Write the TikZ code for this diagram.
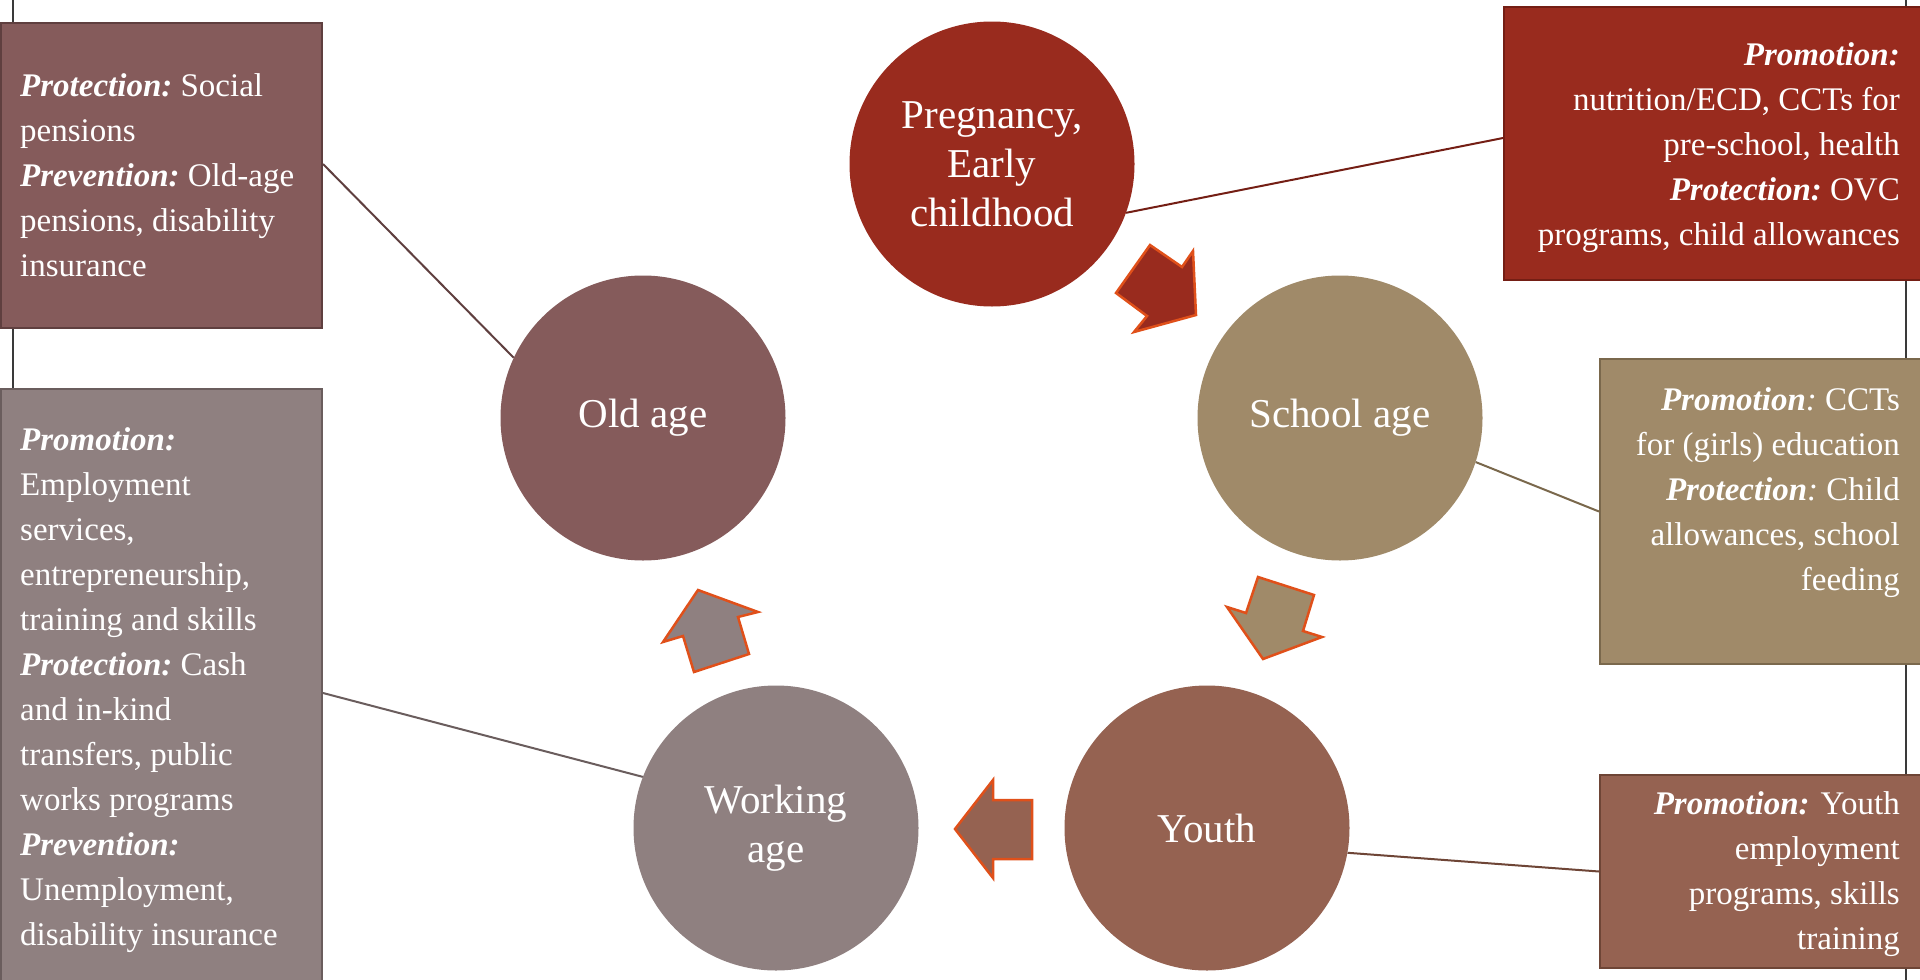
\documentclass[tikz,border=0pt]{standalone}
\usepackage{fontspec}
\setmainfont{Liberation Serif}
\definecolor{pregf}{HTML}{992B1E}
\definecolor{pregd}{HTML}{741E14}
\definecolor{schoolf}{HTML}{A08A69}
\definecolor{schoold}{HTML}{7A684C}
\definecolor{youthf}{HTML}{956251}
\definecolor{youthd}{HTML}{6E4536}
\definecolor{workf}{HTML}{8F8080}
\definecolor{workd}{HTML}{6A5D5D}
\definecolor{oldf}{HTML}{855B5B}
\definecolor{oldd}{HTML}{5F3F3F}
\definecolor{arrowline}{HTML}{E0501A}
\definecolor{rulec}{HTML}{3A3A3A}
% bold italic label
\newcommand\shd[1]{\textbf{\textit{#1}}}
\begin{document}
\begin{tikzpicture}[x=1pt,y=-1pt,
  stage/.style={circle, minimum size=285pt, inner sep=0pt, text=white, align=center,
    font=\fontsize{41}{49}\selectfont},
  infobox/.style={rectangle, line width=2pt, inner sep=0pt},
  infotext/.style={inner sep=0pt, text=white, font=\fontsize{33}{45}\selectfont},
  link/.style={line width=2pt},
  turn/.style={draw=arrowline, line width=2.5pt, line join=miter},
  rule/.style={draw=rulec, line width=2pt}]
\useasboundingbox (0,0) rectangle (1920,980);
\fill[white] (0,0) rectangle (1920,980);

% margin rules behind the boxes
\coordinate (lt) at (13,0);
\coordinate (lb) at (13,980);
\coordinate (rt) at (1906,0);
\coordinate (rb) at (1906,980);
\draw[rule] (lt) -- (lb);
\draw[rule] (rt) -- (rb);

% information boxes
\node[infobox, fill=oldf, draw=oldd, minimum width=321pt, minimum height=305pt, anchor=north west] (oldbox) at (0,22) {};
\node[infobox, fill=workf, draw=workd, minimum width=321pt, minimum height=608pt, anchor=north west] (workbox) at (0,388) {};
\node[infobox, fill=pregf, draw=pregd, minimum width=422pt, minimum height=273pt, anchor=north west] (pregbox) at (1503,6) {};
\node[infobox, fill=schoolf, draw=schoold, minimum width=326pt, minimum height=305pt, anchor=north west] (schoolbox) at (1599,358) {};
\node[infobox, fill=youthf, draw=youthd, minimum width=326pt, minimum height=193pt, anchor=north west] (youthbox) at (1599,774) {};

% box texts
\node[infotext, anchor=north west, align=left] (oldtxt) at (20,73)
  {\shd{Protection:}~Social\\pensions\\\shd{Prevention:}~Old-age\\pensions, disability\\insurance};
\node[infotext, anchor=north west, align=left] (worktxt) at (20,427)
  {\shd{Promotion:}\\Employment\\services,\\entrepreneurship,\\training and skills\\\shd{Protection:}~Cash\\and in-kind\\transfers, public\\works programs\\\shd{Prevention:}\\Unemployment,\\disability insurance};
\node[infotext, anchor=north east, align=right] (pregtxt) at (1900,42)
  {\shd{Promotion:}\\nutrition/ECD, CCTs for\\pre-school, health\\\shd{Protection:}~OVC\\programs, child allowances};
\node[infotext, anchor=north east, align=right] (schooltxt) at (1900,387)
  {\shd{Promotion}\textit{:}~CCTs\\for (girls) education\\\shd{Protection}\textit{:}~Child\\allowances, school\\feeding};
\node[infotext, anchor=north east, align=right] (youthtxt) at (1900,791)
  {\shd{Promotion:} Youth\\employment\\programs, skills\\training};

% life-cycle stages
\node[stage, fill=pregf] (preg) at (992,164) {Pregnancy,\\Early\\childhood};
\node[stage, fill=schoolf] (school) at (1340,418) {\raisebox{-3pt}{School age}};
\node[stage, fill=youthf] (youth) at (1207,828) {Youth};
\node[stage, fill=workf] (work) at (776,828) {Working\\age};
\node[stage, fill=oldf] (old) at (643,418) {\raisebox{-3pt}{Old age}};

% connectors between stages and boxes
\draw[link, draw=oldd] ([yshift=11.5pt]oldbox.east) -- (old.155);
\draw[link, draw=pregd] (preg.-20) -- ([yshift=5.5pt]pregbox.west);
\draw[link, draw=schoold] (school.-18) -- (schoolbox.west);
\draw[link, draw=youthd] (youth.-10) -- (youthbox.west);
\draw[link, draw=workd] (workbox.east) -- (work.159);

% block arrows around the cycle
\filldraw[turn, fill=pregf] (1150,245) -- (1182,267) -- (1193,251) -- (1196,315) -- (1134,332) -- (1147,316) -- (1116,293) -- cycle;
\filldraw[turn, fill=schoolf] (1258,577) -- (1314,595) -- (1303,631) -- (1322,637) -- (1263,659) -- (1227,607) -- (1246,613) -- cycle;
\filldraw[turn, fill=youthf] (993,780) -- (993,800) -- (1032,800) -- (1032,859) -- (993,859) -- (993,878) -- (955,829) -- cycle;
\filldraw[turn, fill=workf] (698,590) -- (758,612) -- (738,617) -- (749,654) -- (694,672) -- (683,636) -- (663,642) -- cycle;
\end{tikzpicture}
\end{document}
